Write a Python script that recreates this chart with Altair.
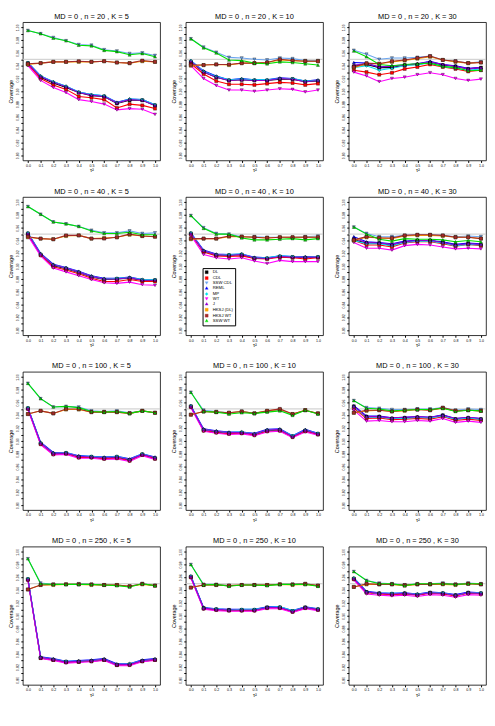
import altair as alt
import pandas as pd

TAU2 = [0.0, 0.1, 0.2, 0.3, 0.4, 0.5, 0.6, 0.7, 0.8, 0.9, 1.0]
METHODS = ["DL", "CDL", "SSW CDL", "REML", "MP", "WT", "J", "HKSJ (DL)", "HKSJ WT", "SSW WT"]
COLORS = ["#000000", "#FF0000", "#6CA6F0", "#0000FF", "#00E5EE", "#FF00FF",
          "#9400D3", "#FFA500", "#A52A2A", "#00E000"]
SHAPES = ["square", "square", "triangle-down", "triangle-up", "diamond", "triangle-down",
          "triangle-up", "square", "square", "triangle-up"]
N_VALUES = [20, 40, 100, 250]
K_VALUES = [5, 10, 30]
Y_TICKS = [round(0.80 + 0.01 * i, 2) for i in range(21)]

# ---------------- n = 20 ----------------
n20_k5_DL = [0.944, 0.922, 0.913, 0.906, 0.898, 0.893, 0.892, 0.881, 0.886, 0.886, 0.878]
n20_k5_CDL = [0.942, 0.920, 0.910, 0.903, 0.892, 0.890, 0.887, 0.874, 0.880, 0.878, 0.873]
n20_k5_SSWCDL = [0.995, 0.990, 0.984, 0.979, 0.973, 0.972, 0.965, 0.963, 0.959, 0.960, 0.956]
n20_k5_REML = [0.945, 0.924, 0.915, 0.908, 0.899, 0.895, 0.893, 0.883, 0.888, 0.887, 0.879]
n20_k5_MP = [0.945, 0.924, 0.915, 0.908, 0.899, 0.895, 0.893, 0.882, 0.888, 0.887, 0.879]
n20_k5_WT = [0.940, 0.917, 0.906, 0.898, 0.887, 0.884, 0.880, 0.871, 0.873, 0.872, 0.864]
n20_k5_J = [0.944, 0.923, 0.914, 0.907, 0.898, 0.894, 0.892, 0.882, 0.887, 0.886, 0.878]
n20_k5_HKSJDL = [0.942, 0.944, 0.946, 0.946, 0.946, 0.946, 0.947, 0.945, 0.944, 0.947, 0.946]
n20_k5_HKSJWT = [0.943, 0.944, 0.946, 0.946, 0.947, 0.946, 0.947, 0.945, 0.944, 0.948, 0.946]
n20_k5_SSWWT = [0.995, 0.990, 0.983, 0.979, 0.972, 0.971, 0.964, 0.962, 0.957, 0.959, 0.954]

n20_k10_DL = [0.946, 0.930, 0.922, 0.917, 0.918, 0.917, 0.917, 0.919, 0.919, 0.915, 0.916]
n20_k10_CDL = [0.943, 0.927, 0.916, 0.911, 0.911, 0.910, 0.912, 0.914, 0.913, 0.910, 0.912]
n20_k10_SSWCDL = [0.982, 0.969, 0.961, 0.953, 0.952, 0.950, 0.949, 0.952, 0.951, 0.948, 0.948]
n20_k10_REML = [0.948, 0.932, 0.924, 0.918, 0.920, 0.918, 0.918, 0.921, 0.920, 0.916, 0.918]
n20_k10_MP = [0.948, 0.931, 0.923, 0.918, 0.919, 0.918, 0.918, 0.920, 0.920, 0.916, 0.917]
n20_k10_WT = [0.940, 0.920, 0.909, 0.902, 0.902, 0.900, 0.902, 0.904, 0.903, 0.899, 0.902]
n20_k10_J = [0.947, 0.930, 0.922, 0.917, 0.918, 0.917, 0.917, 0.920, 0.919, 0.915, 0.917]
n20_k10_HKSJDL = [0.940, 0.941, 0.942, 0.941, 0.944, 0.944, 0.945, 0.949, 0.948, 0.947, 0.947]
n20_k10_HKSJWT = [0.941, 0.941, 0.942, 0.942, 0.944, 0.944, 0.945, 0.950, 0.948, 0.947, 0.947]
n20_k10_SSWWT = [0.982, 0.968, 0.960, 0.949, 0.948, 0.944, 0.943, 0.946, 0.945, 0.943, 0.941]

n20_k30_DL = [0.939, 0.942, 0.937, 0.937, 0.941, 0.942, 0.945, 0.941, 0.939, 0.935, 0.937]
n20_k30_CDL = [0.933, 0.930, 0.926, 0.929, 0.935, 0.938, 0.942, 0.938, 0.935, 0.931, 0.933]
n20_k30_SSWCDL = [0.964, 0.958, 0.950, 0.952, 0.952, 0.953, 0.955, 0.949, 0.947, 0.944, 0.946]
n20_k30_REML = [0.945, 0.944, 0.938, 0.940, 0.941, 0.943, 0.947, 0.942, 0.940, 0.936, 0.937]
n20_k30_MP = [0.937, 0.940, 0.933, 0.936, 0.940, 0.942, 0.944, 0.939, 0.936, 0.933, 0.935]
n20_k30_WT = [0.930, 0.924, 0.915, 0.920, 0.922, 0.926, 0.929, 0.926, 0.920, 0.917, 0.919]
n20_k30_J = [0.941, 0.943, 0.938, 0.939, 0.941, 0.943, 0.946, 0.942, 0.939, 0.935, 0.937]
n20_k30_HKSJDL = [0.937, 0.943, 0.943, 0.946, 0.948, 0.951, 0.954, 0.949, 0.946, 0.944, 0.945]
n20_k30_HKSJWT = [0.938, 0.944, 0.943, 0.947, 0.949, 0.952, 0.955, 0.949, 0.947, 0.944, 0.945]
n20_k30_SSWWT = [0.963, 0.954, 0.942, 0.940, 0.942, 0.943, 0.944, 0.939, 0.937, 0.932, 0.933]

# ---------------- n = 40 ----------------
n40_k5_DL = [0.951, 0.918, 0.901, 0.896, 0.890, 0.883, 0.879, 0.880, 0.881, 0.878, 0.878]
n40_k5_CDL = [0.949, 0.917, 0.899, 0.894, 0.888, 0.881, 0.876, 0.876, 0.879, 0.876, 0.876]
n40_k5_SSWCDL = [0.993, 0.981, 0.969, 0.966, 0.962, 0.956, 0.952, 0.952, 0.955, 0.951, 0.952]
n40_k5_REML = [0.952, 0.920, 0.903, 0.898, 0.892, 0.885, 0.881, 0.881, 0.883, 0.879, 0.879]
n40_k5_MP = [0.952, 0.919, 0.902, 0.897, 0.891, 0.884, 0.880, 0.881, 0.882, 0.879, 0.879]
n40_k5_WT = [0.947, 0.916, 0.897, 0.891, 0.885, 0.879, 0.874, 0.873, 0.875, 0.871, 0.870]
n40_k5_J = [0.951, 0.919, 0.902, 0.897, 0.891, 0.884, 0.880, 0.880, 0.882, 0.878, 0.878]
n40_k5_HKSJDL = [0.945, 0.943, 0.942, 0.947, 0.948, 0.943, 0.944, 0.945, 0.949, 0.947, 0.946]
n40_k5_HKSJWT = [0.946, 0.943, 0.942, 0.948, 0.948, 0.943, 0.943, 0.945, 0.950, 0.947, 0.946]
n40_k5_SSWWT = [0.993, 0.981, 0.969, 0.966, 0.962, 0.955, 0.951, 0.951, 0.953, 0.949, 0.949]

n40_k10_DL = [0.951, 0.923, 0.917, 0.917, 0.918, 0.912, 0.912, 0.915, 0.914, 0.913, 0.914]
n40_k10_CDL = [0.949, 0.922, 0.916, 0.915, 0.916, 0.912, 0.911, 0.914, 0.913, 0.911, 0.913]
n40_k10_SSWCDL = [0.979, 0.960, 0.951, 0.950, 0.946, 0.946, 0.945, 0.945, 0.945, 0.946, 0.947]
n40_k10_REML = [0.952, 0.925, 0.919, 0.918, 0.919, 0.914, 0.913, 0.916, 0.915, 0.915, 0.915]
n40_k10_MP = [0.952, 0.924, 0.918, 0.918, 0.919, 0.913, 0.913, 0.916, 0.915, 0.914, 0.915]
n40_k10_WT = [0.948, 0.918, 0.913, 0.911, 0.913, 0.908, 0.904, 0.909, 0.907, 0.907, 0.907]
n40_k10_J = [0.951, 0.924, 0.918, 0.917, 0.918, 0.913, 0.912, 0.915, 0.914, 0.914, 0.914]
n40_k10_HKSJDL = [0.942, 0.943, 0.943, 0.946, 0.946, 0.945, 0.944, 0.945, 0.945, 0.945, 0.945]
n40_k10_HKSJWT = [0.943, 0.943, 0.943, 0.947, 0.946, 0.945, 0.944, 0.945, 0.945, 0.945, 0.945]
n40_k10_SSWWT = [0.979, 0.959, 0.950, 0.950, 0.944, 0.941, 0.941, 0.942, 0.943, 0.941, 0.943]

n40_k30_DL = [0.941, 0.936, 0.936, 0.932, 0.938, 0.940, 0.940, 0.937, 0.933, 0.935, 0.933]
n40_k30_CDL = [0.940, 0.933, 0.933, 0.930, 0.936, 0.938, 0.938, 0.935, 0.931, 0.934, 0.932]
n40_k30_SSWCDL = [0.961, 0.951, 0.946, 0.946, 0.948, 0.949, 0.949, 0.948, 0.946, 0.947, 0.946]
n40_k30_REML = [0.946, 0.938, 0.937, 0.935, 0.939, 0.940, 0.940, 0.938, 0.934, 0.936, 0.935]
n40_k30_MP = [0.940, 0.935, 0.935, 0.932, 0.937, 0.939, 0.939, 0.936, 0.932, 0.934, 0.933]
n40_k30_WT = [0.937, 0.928, 0.928, 0.925, 0.932, 0.934, 0.933, 0.930, 0.927, 0.928, 0.927]
n40_k30_J = [0.943, 0.937, 0.936, 0.934, 0.938, 0.940, 0.940, 0.937, 0.933, 0.935, 0.934]
n40_k30_HKSJDL = [0.940, 0.945, 0.944, 0.943, 0.947, 0.948, 0.948, 0.947, 0.945, 0.945, 0.943]
n40_k30_HKSJWT = [0.941, 0.946, 0.944, 0.944, 0.948, 0.949, 0.949, 0.948, 0.945, 0.945, 0.943]
n40_k30_SSWWT = [0.961, 0.950, 0.942, 0.939, 0.943, 0.942, 0.942, 0.941, 0.938, 0.940, 0.938]

# ---------------- n = 100 ----------------
n100_k5_DL = [0.951, 0.896, 0.880, 0.881, 0.875, 0.875, 0.873, 0.875, 0.870, 0.879, 0.873]
n100_k5_CDL = [0.950, 0.895, 0.879, 0.880, 0.874, 0.874, 0.872, 0.873, 0.869, 0.878, 0.872]
n100_k5_SSWCDL = [0.990, 0.966, 0.953, 0.954, 0.953, 0.947, 0.946, 0.947, 0.944, 0.947, 0.944]
n100_k5_REML = [0.952, 0.898, 0.882, 0.882, 0.877, 0.876, 0.875, 0.876, 0.872, 0.880, 0.875]
n100_k5_MP = [0.952, 0.897, 0.881, 0.882, 0.876, 0.876, 0.874, 0.876, 0.871, 0.880, 0.874]
n100_k5_WT = [0.949, 0.894, 0.878, 0.879, 0.873, 0.873, 0.871, 0.872, 0.868, 0.877, 0.871]
n100_k5_J = [0.951, 0.897, 0.881, 0.881, 0.876, 0.875, 0.874, 0.875, 0.871, 0.879, 0.874]
n100_k5_HKSJDL = [0.942, 0.947, 0.943, 0.949, 0.949, 0.945, 0.945, 0.945, 0.943, 0.947, 0.944]
n100_k5_HKSJWT = [0.942, 0.947, 0.943, 0.950, 0.950, 0.945, 0.945, 0.945, 0.943, 0.947, 0.944]
n100_k5_SSWWT = [0.990, 0.966, 0.953, 0.954, 0.952, 0.946, 0.945, 0.946, 0.943, 0.947, 0.944]

n100_k10_DL = [0.954, 0.917, 0.914, 0.912, 0.913, 0.910, 0.916, 0.917, 0.907, 0.916, 0.911]
n100_k10_CDL = [0.953, 0.916, 0.913, 0.911, 0.912, 0.909, 0.915, 0.916, 0.906, 0.915, 0.910]
n100_k10_SSWCDL = [0.976, 0.948, 0.946, 0.944, 0.946, 0.943, 0.946, 0.948, 0.941, 0.948, 0.943]
n100_k10_REML = [0.955, 0.919, 0.916, 0.914, 0.914, 0.912, 0.918, 0.919, 0.908, 0.918, 0.912]
n100_k10_MP = [0.955, 0.918, 0.915, 0.913, 0.914, 0.911, 0.917, 0.918, 0.908, 0.917, 0.912]
n100_k10_WT = [0.952, 0.915, 0.912, 0.910, 0.911, 0.908, 0.914, 0.915, 0.905, 0.914, 0.909]
n100_k10_J = [0.954, 0.918, 0.915, 0.913, 0.913, 0.911, 0.917, 0.918, 0.907, 0.917, 0.911]
n100_k10_HKSJDL = [0.941, 0.946, 0.945, 0.944, 0.946, 0.943, 0.947, 0.949, 0.942, 0.948, 0.943]
n100_k10_HKSJWT = [0.941, 0.946, 0.945, 0.944, 0.946, 0.943, 0.947, 0.950, 0.942, 0.948, 0.943]
n100_k10_SSWWT = [0.976, 0.946, 0.945, 0.942, 0.944, 0.943, 0.945, 0.947, 0.940, 0.948, 0.942]

n100_k30_DL = [0.954, 0.938, 0.938, 0.935, 0.936, 0.937, 0.936, 0.940, 0.934, 0.936, 0.934]
n100_k30_CDL = [0.951, 0.935, 0.936, 0.933, 0.934, 0.935, 0.934, 0.938, 0.932, 0.934, 0.932]
n100_k30_SSWCDL = [0.963, 0.952, 0.951, 0.949, 0.949, 0.950, 0.950, 0.952, 0.948, 0.950, 0.949]
n100_k30_REML = [0.955, 0.939, 0.939, 0.936, 0.937, 0.938, 0.937, 0.941, 0.935, 0.937, 0.935]
n100_k30_MP = [0.953, 0.937, 0.937, 0.935, 0.935, 0.937, 0.936, 0.939, 0.934, 0.936, 0.934]
n100_k30_WT = [0.948, 0.931, 0.932, 0.930, 0.930, 0.932, 0.931, 0.935, 0.929, 0.931, 0.929]
n100_k30_J = [0.954, 0.938, 0.938, 0.936, 0.937, 0.938, 0.937, 0.940, 0.935, 0.937, 0.935]
n100_k30_HKSJDL = [0.944, 0.947, 0.948, 0.946, 0.947, 0.949, 0.948, 0.951, 0.947, 0.948, 0.947]
n100_k30_HKSJWT = [0.944, 0.948, 0.948, 0.946, 0.948, 0.949, 0.948, 0.952, 0.947, 0.948, 0.947]
n100_k30_SSWWT = [0.963, 0.951, 0.950, 0.947, 0.948, 0.949, 0.949, 0.951, 0.946, 0.948, 0.947]

# ---------------- n = 250 ----------------
n250_k5_DL = [0.957, 0.834, 0.831, 0.828, 0.828, 0.829, 0.831, 0.823, 0.824, 0.829, 0.831]
n250_k5_CDL = [0.956, 0.834, 0.831, 0.827, 0.828, 0.829, 0.831, 0.823, 0.823, 0.829, 0.831]
n250_k5_SSWCDL = [0.989, 0.951, 0.949, 0.949, 0.950, 0.949, 0.948, 0.948, 0.946, 0.950, 0.947]
n250_k5_REML = [0.958, 0.836, 0.833, 0.829, 0.830, 0.831, 0.833, 0.825, 0.825, 0.831, 0.833]
n250_k5_MP = [0.958, 0.835, 0.832, 0.829, 0.829, 0.830, 0.832, 0.824, 0.825, 0.830, 0.832]
n250_k5_WT = [0.955, 0.833, 0.830, 0.826, 0.827, 0.828, 0.830, 0.822, 0.822, 0.828, 0.830]
n250_k5_J = [0.957, 0.835, 0.832, 0.828, 0.829, 0.830, 0.832, 0.824, 0.824, 0.830, 0.832]
n250_k5_HKSJDL = [0.941, 0.948, 0.948, 0.949, 0.949, 0.948, 0.948, 0.948, 0.946, 0.949, 0.947]
n250_k5_HKSJWT = [0.941, 0.948, 0.949, 0.949, 0.949, 0.949, 0.948, 0.948, 0.946, 0.950, 0.947]
n250_k5_SSWWT = [0.989, 0.950, 0.949, 0.949, 0.949, 0.949, 0.948, 0.947, 0.945, 0.950, 0.947]

n250_k10_DL = [0.961, 0.912, 0.910, 0.909, 0.909, 0.909, 0.913, 0.913, 0.907, 0.913, 0.910]
n250_k10_CDL = [0.960, 0.911, 0.909, 0.908, 0.908, 0.908, 0.912, 0.912, 0.906, 0.912, 0.909]
n250_k10_SSWCDL = [0.980, 0.949, 0.949, 0.947, 0.948, 0.948, 0.948, 0.949, 0.949, 0.950, 0.947]
n250_k10_REML = [0.962, 0.913, 0.911, 0.910, 0.910, 0.910, 0.914, 0.914, 0.908, 0.914, 0.911]
n250_k10_MP = [0.962, 0.912, 0.911, 0.909, 0.910, 0.910, 0.913, 0.914, 0.908, 0.913, 0.911]
n250_k10_WT = [0.959, 0.910, 0.908, 0.907, 0.907, 0.907, 0.911, 0.911, 0.905, 0.911, 0.908]
n250_k10_J = [0.961, 0.912, 0.910, 0.909, 0.909, 0.909, 0.913, 0.913, 0.907, 0.913, 0.910]
n250_k10_HKSJDL = [0.944, 0.948, 0.948, 0.947, 0.948, 0.948, 0.948, 0.949, 0.948, 0.949, 0.947]
n250_k10_HKSJWT = [0.944, 0.948, 0.948, 0.947, 0.948, 0.948, 0.948, 0.949, 0.949, 0.950, 0.947]
n250_k10_SSWWT = [0.980, 0.948, 0.949, 0.946, 0.948, 0.948, 0.947, 0.949, 0.949, 0.949, 0.946]

n250_k30_DL = [0.958, 0.937, 0.935, 0.934, 0.935, 0.933, 0.936, 0.935, 0.932, 0.936, 0.935]
n250_k30_CDL = [0.957, 0.936, 0.934, 0.933, 0.934, 0.932, 0.935, 0.934, 0.931, 0.935, 0.934]
n250_k30_SSWCDL = [0.969, 0.955, 0.951, 0.950, 0.948, 0.950, 0.950, 0.951, 0.949, 0.951, 0.950]
n250_k30_REML = [0.959, 0.938, 0.936, 0.935, 0.936, 0.934, 0.937, 0.936, 0.933, 0.937, 0.936]
n250_k30_MP = [0.959, 0.937, 0.935, 0.935, 0.935, 0.934, 0.936, 0.936, 0.932, 0.936, 0.936]
n250_k30_WT = [0.956, 0.934, 0.932, 0.931, 0.932, 0.930, 0.933, 0.932, 0.929, 0.933, 0.932]
n250_k30_J = [0.958, 0.937, 0.935, 0.934, 0.935, 0.933, 0.936, 0.935, 0.932, 0.936, 0.935]
n250_k30_HKSJDL = [0.945, 0.949, 0.949, 0.949, 0.947, 0.949, 0.949, 0.949, 0.948, 0.950, 0.949]
n250_k30_HKSJWT = [0.945, 0.950, 0.949, 0.949, 0.948, 0.949, 0.949, 0.950, 0.949, 0.950, 0.949]
n250_k30_SSWWT = [0.969, 0.955, 0.950, 0.950, 0.947, 0.950, 0.950, 0.950, 0.949, 0.950, 0.950]

SUFFIX = ["DL", "CDL", "SSWCDL", "REML", "MP", "WT", "J", "HKSJDL", "HKSJWT", "SSWWT"]

rows = []
g = globals()
for n in N_VALUES:
    for k in K_VALUES:
        for m, suf in zip(METHODS, SUFFIX):
            vals = g[f"n{n}_k{k}_{suf}"]
            for t, v in zip(TAU2, vals):
                rows.append({"n": n, "K": k, "method": m, "order": METHODS.index(m), "tau2": t, "cov": v})
df = pd.DataFrame(rows)
ref_df = pd.DataFrame({"y": [0.95]})

W, H = 139, 140
xscale = alt.Scale(domain=[-0.04, 1.04], nice=False, zero=False)
yscale = alt.Scale(domain=[0.792, 1.008], nice=False, zero=False)
xaxis = alt.Axis(values=TAU2, format=".1f", title="τ²", grid=False, domain=False,
                 labelFontSize=3.6, tickSize=2, labelPadding=1, titleFontSize=5.5,
                 titlePadding=1, titleFontWeight="normal", tickColor="#000", labelColor="#000")
yaxis = alt.Axis(values=Y_TICKS, grid=False, domain=False, title="Coverage",
                 labelExpr="round(datum.value*100) % 2 == 0 ? format(datum.value, '.2f') : ''",
                 labelAngle=270, labelAlign="center", labelBaseline="bottom",
                 labelFontSize=3.6, tickSize=2, labelPadding=1, titleFontSize=5.5,
                 titlePadding=2, titleFontWeight="normal", tickColor="#000", labelColor="#000")

color = alt.Color("method:N", scale=alt.Scale(domain=METHODS, range=COLORS), sort=METHODS, title=None)
shape = alt.Shape("method:N", scale=alt.Scale(domain=METHODS, range=SHAPES), sort=METHODS, title=None)


def panel(n, k):
    sub = df[(df.n == n) & (df.K == k)]
    base = alt.Chart(sub)
    ref = alt.Chart(ref_df).mark_rule(color="#C8C8C8", strokeWidth=1).encode(
        y=alt.Y("y:Q", scale=yscale, axis=yaxis))
    lines = base.mark_line(strokeWidth=1.1).encode(
        x=alt.X("tau2:Q", scale=xscale, axis=xaxis),
        y=alt.Y("cov:Q", scale=yscale, axis=yaxis),
        color=color,
        order=alt.Order("tau2:Q"),
    )
    pts = base.mark_point(filled=True, size=10, stroke="#000", strokeWidth=0.35, opacity=1).encode(
        x=alt.X("tau2:Q", scale=xscale, axis=xaxis),
        y=alt.Y("cov:Q", scale=yscale, axis=yaxis),
        color=color,
        shape=shape,
        order=alt.Order("order:Q"),
    )
    return alt.layer(ref, lines, pts).properties(
        width=W, height=H,
        title=alt.TitleParams(f"MD = 0 , n = {n} , K = {k}", fontSize=7.5,
                              fontWeight="normal", offset=2, font="Liberation Sans",
                              anchor="middle", color="#000"),
    )


grid_rows = [alt.hconcat(*[panel(n, k) for k in K_VALUES], spacing=10) for n in N_VALUES]
chart = alt.vconcat(*grid_rows, spacing=13).properties(padding=0).configure_view(
    stroke="#000", strokeWidth=0.8
).configure_axis(
    labelFont="Liberation Sans", titleFont="Liberation Sans"
).configure_legend(
    orient="none", legendX=182, legendY=249, labelFontSize=4.3, symbolSize=9,
    rowPadding=0, padding=2, strokeColor="#000", fillColor="#FFFFFF",
    labelFont="Liberation Sans", symbolStrokeWidth=0.35, labelLimit=60, offset=0,
)

chart.save("out.html", embed_options={"renderer": "svg", "actions": False})
